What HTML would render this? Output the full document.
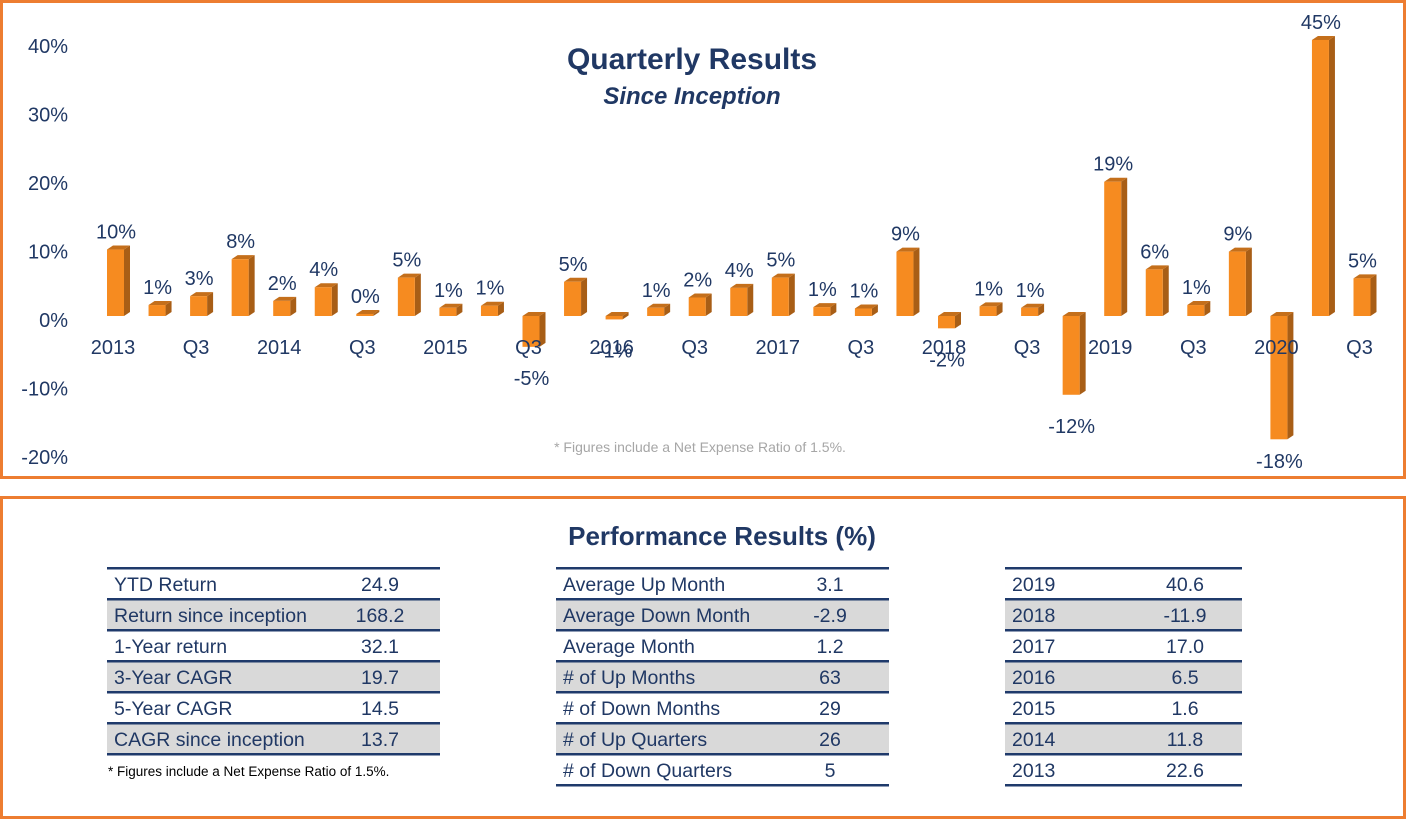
<!DOCTYPE html>
<html><head><meta charset="utf-8"><style>
body{margin:0;background:#fff;}
svg text{font-family:"Liberation Sans",sans-serif;fill:#203864;}
</style></head><body>
<svg id="s" width="1408" height="821" viewBox="0 0 1408 821" xmlns="http://www.w3.org/2000/svg">
<rect x="1.5" y="1.5" width="1403" height="476" fill="none" stroke="#ED7D31" stroke-width="3"/>
<rect x="1.5" y="497.5" width="1403" height="320" fill="none" stroke="#ED7D31" stroke-width="3"/>
<text x="692" y="69" text-anchor="middle" font-size="30" font-weight="bold">Quarterly Results</text>
<text x="692" y="104" text-anchor="middle" font-size="24" font-weight="bold" font-style="italic">Since Inception</text>
<text x="700" y="452" text-anchor="middle" font-size="14" style="fill:#A6A6A6">* Figures include a Net Expense Ratio of 1.5%.</text>
<g id="yaxis"></g>
<g id="bars"></g>
<g id="cats"></g>
<g id="vals"></g>
<text x="722" y="545" text-anchor="middle" font-size="26" font-weight="bold">Performance Results (%)</text>
<g id="tables"></g>
<text x="108" y="776" font-size="13.5" style="fill:#000">* Figures include a Net Expense Ratio of 1.5%.</text>
</svg>
<script>
const values=[9.7,1.6,2.9,8.3,2.2,4.2,0.3,5.6,1.2,1.5,-4.5,5.0,-0.5,1.2,2.7,4.1,5.6,1.3,1.1,9.4,-1.8,1.4,1.2,-11.5,19.6,6.8,1.6,9.4,-18,40.3,5.5];
const valueLabels=["10%","1%","3%","8%","2%","4%","0%","5%","1%","1%","-5%","5%","-1%","1%","2%","4%","5%","1%","1%","9%","-2%","1%","1%","-12%","19%","6%","1%","9%","-18%","45%","5%"];
const catLabels=["2013","Q3","2014","Q3","2015","Q3","2016","Q3","2017","Q3","2018","Q3","2019","Q3","2020","Q3"];
const yTicks=[40,30,20,10,0,-10,-20];
const table1=[["YTD Return","24.9"],["Return since inception","168.2"],["1-Year return","32.1"],["3-Year CAGR","19.7"],["5-Year CAGR","14.5"],["CAGR since inception","13.7"]];
const table2=[["Average Up Month","3.1"],["Average Down Month","-2.9"],["Average Month","1.2"],["# of Up Months","63"],["# of Down Months","29"],["# of Up Quarters","26"],["# of Down Quarters","5"]];
const table3=[["2019","40.6"],["2018","-11.9"],["2017","17.0"],["2016","6.5"],["2015","1.6"],["2014","11.8"],["2013","22.6"]];

const NS="http://www.w3.org/2000/svg";
function mk(t,a,p){const e=document.createElementNS(NS,t);for(const k in a)e.setAttribute(k,a[k]);p.appendChild(e);return e;}
const y=v=>316-6.85*v;
const x=i=>116+41.55*i;
const gy=document.getElementById('yaxis');
yTicks.forEach(t=>{const e=mk('text',{x:68,y:y(t)+11,'text-anchor':'end','font-size':20},gy);e.textContent=t+'%';

});
const gb=document.getElementById('bars'),gv=document.getElementById('vals'),gc=document.getElementById('cats');
const W=17,D=6,H=4;
values.forEach((v,i)=>{
 const cx=x(i),l=cx-9,top=Math.min(y(v),316),bot=Math.max(y(v),316);
 const g=mk('g',{},gb);
 
 
 mk('polygon',{points:`${l+W},${top} ${l+W+D},${top-H} ${l+W+D},${bot-H} ${l+W},${bot}`,fill:'#A85E16'},g);
 mk('polygon',{points:`${l},${top} ${l+D},${top-H} ${l+W+D},${top-H} ${l+W},${top}`,fill:'#C46F1B'},g);
 mk('rect',{x:l,y:top,width:W,height:Math.max(bot-top,1),fill:'#F68B20'},g);
 const ty=v>=0?top-11:Math.min(bot+38,468);
 const t=mk('text',{x:cx,y:ty,'text-anchor':'middle','font-size':20},gv);t.textContent=valueLabels[i];
 
 
});
catLabels.forEach((c,j)=>{const t=mk('text',{x:x(j*2)-3,y:354,'text-anchor':'middle','font-size':20},gc);t.textContent=c;

});
const gt=document.getElementById('tables');
function table(rows,x0,x1,vx,name){
 const g=mk('g',{},gt);
 
 
 rows.forEach((r,i)=>{
  const ry=568+31*i;
  if(i%2==1)mk('rect',{x:x0,y:ry,width:x1-x0,height:31,fill:'#D9D9D9'},g);
  const a=mk('text',{x:x0+7,y:ry+23,'font-size':19.5},g);a.textContent=r[0];
  const b=mk('text',{x:vx,y:ry+23,'text-anchor':'middle','font-size':19.5},g);b.textContent=r[1];
 });
 for(let i=0;i<=rows.length;i++)mk('rect',{x:x0,y:567+31*i,width:x1-x0,height:2.5,fill:'#1F3A6B'},g);
}
table(table1,107,440,380,'returns-table');
table(table2,556,889,830,'monthly-stats-table');
table(table3,1005,1242,1185,'annual-returns-table');
</script>
</body></html>
